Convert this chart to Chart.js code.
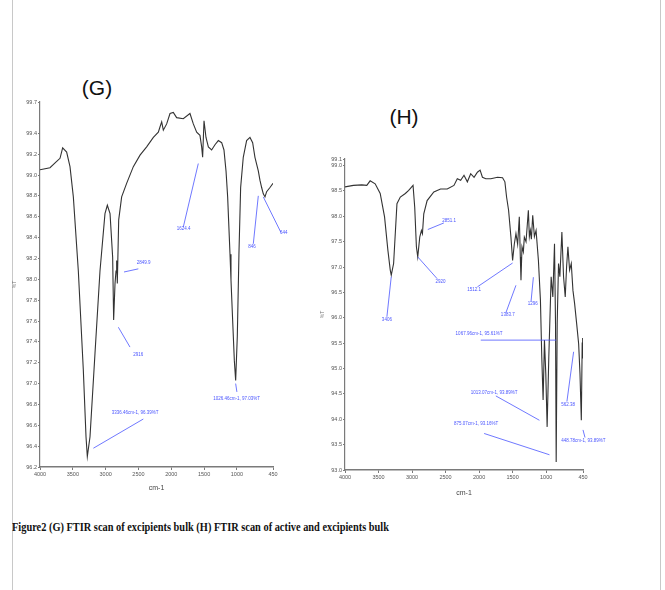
<!DOCTYPE html>
<html>
<head>
<meta charset="utf-8">
<script src="https://cdn.jsdelivr.net/npm/chart.js@4/dist/chart.umd.min.js"></script>
<style>
  html, body { margin:0; padding:0; background:#fff; }
  body { width:665px; height:590px; position:relative; overflow:hidden; }
  .frame { position:absolute; top:0; width:0; height:590px; border-left:1px solid #c8c8c8; }
  .ttl { position:absolute; font-family:"Liberation Sans", Arial, sans-serif; font-size:21px; color:#111; transform:translate(-50%,-50%); white-space:nowrap; }
  #cap { position:absolute; left:12px; top:519px; font-family:"Liberation Serif", "Times New Roman", serif; font-weight:bold; font-size:13px; color:#111; white-space:nowrap; transform-origin:0 0; }
  canvas { position:absolute; }
</style>
</head>
<body>
<div class="frame" style="left:12px"></div>
<div class="frame" style="left:660px"></div>
<div class="ttl" style="left:97px; top:88px">(G)</div>
<div class="ttl" style="left:404px; top:117px">(H)</div>
<canvas id="g" width="300" height="430" style="left:0px; top:70px"></canvas>
<canvas id="h" width="320" height="420" style="left:300px; top:90px"></canvas>
<div id="cap">Figure2 (G) FTIR scan of excipients bulk (H) FTIR scan of active and excipients bulk</div>
<script>
// ---------- DATA ----------
const xTicks = [4000, 3500, 3000, 2500, 2000, 1500, 1000, 450];

// (G) excipients bulk
const wnG = [4000,3848,3746,3695,3655,3594,3543,3492,3416,3340,3299,3279,3238,3162,3086,3010,2974,2933,2893,2878,2857,2842,2832,2822,2801,2756,2680,2578,2476,2375,2273,2197,2172,2146,2121,2070,2019,1969,1918,1817,1715,1664,1613,1563,1537,1522,1501,1471,1435,1385,1334,1283,1232,1197,1166,1141,1126,1105,1090,1065,1039,1019,994,969,943,903,852,801,760,725,674,649,623,598,572,547,496,450];
const tG  = [99.05,99.07,99.13,99.16,99.26,99.22,99.08,98.79,98.08,97.13,96.49,96.30,96.49,97.29,98.08,98.63,98.71,98.63,98.21,97.61,97.96,98.08,98.18,97.96,98.57,98.79,98.92,99.08,99.19,99.27,99.36,99.41,99.46,99.51,99.43,99.49,99.59,99.60,99.55,99.54,99.59,99.49,99.41,99.38,99.27,99.17,99.52,99.36,99.27,99.24,99.29,99.33,99.31,99.24,99.04,98.79,98.56,98.24,97.99,97.61,97.22,97.03,97.45,98.24,98.88,99.17,99.33,99.36,99.31,99.17,99.04,98.95,98.88,98.82,98.79,98.84,98.88,98.92];
const yTicksG = [96.2,96.4,96.6,96.8,97.0,97.2,97.4,97.6,97.8,98.0,98.2,98.4,98.6,98.8,99.0,99.2,99.4,99.7];
// annotations G: line start, line end, text anchor, text
const annLineG = [[3187,96.38,2426,96.66],[2806,97.54,2629,97.35],[2720,98.07,2502,98.10],[1588,99.11,1817,98.50],[1019,97.00,1000,96.92],[674,98.80,750,98.34],[598,98.79,330,98.45]];
const annTextPosG = [[2908,96.72],[2578,97.28],[2527,98.16],[1918,98.48],[1359,96.85],[826,98.31],[343,98.45]];
const annTextG = ["3336.46cm-1, 96.39%T","2916","2849.9","1624.4","1026.46cm-1, 97.03%T","846","644"];

// (H) active and excipients bulk
const wnH = [4000,3875,3750,3675,3625,3550,3475,3410,3360,3325,3310,3275,3225,3175,3100,3050,2985,2960,2935,2915,2885,2860,2845,2825,2775,2675,2575,2475,2375,2325,2275,2225,2175,2125,2075,2025,1985,1950,1900,1825,1725,1650,1615,1590,1560,1525,1500,1475,1450,1425,1400,1385,1375,1360,1340,1325,1300,1280,1265,1250,1235,1220,1200,1175,1150,1115,1085,1065,1045,1025,1005,985,960,925,900,875,860,850,835,815,795,765,740,715,695,675,650,625,600,575,545,515,495,475,462,455,450];
const tH  = [98.58,98.61,98.62,98.61,98.70,98.64,98.45,97.99,97.33,96.94,96.84,97.07,98.25,98.38,98.45,98.51,98.61,98.18,97.40,97.20,97.59,97.72,97.66,98.05,98.31,98.48,98.54,98.54,98.61,98.74,98.71,98.81,98.68,98.84,98.77,98.87,98.91,98.77,98.74,98.74,98.77,98.76,98.68,98.38,98.12,97.59,97.13,97.45,97.66,97.45,97.99,97.20,96.74,97.40,97.30,97.59,97.50,97.85,98.12,97.60,97.72,97.55,98.02,97.60,97.72,97.13,96.35,95.23,94.38,95.56,94.90,93.85,95.23,96.81,96.41,97.46,95.89,93.16,95.89,97.07,96.81,97.69,96.81,96.41,97.00,97.40,96.94,97.07,96.54,96.28,95.89,95.49,94.90,93.98,95.50,95.60,95.20];
const yTicksH = [93.0,93.5,94.0,94.5,95.0,95.5,96.0,96.5,97.0,97.5,98.0,98.5,99.0,99.13];
const annLineH = [[3310,96.81,3375,96.02],[2915,97.20,2625,96.77],[2765,97.74,2525,97.87],[1500,97.08,2025,96.61],[1450,96.64,1600,96.10],[1190,96.80,1225,96.32],[1975,95.56,850,95.56],[1750,94.46,1100,93.98],[1925,93.72,950,93.30],[590,95.33,690,94.35],[450,93.79,420,93.64]];
const annTextPosH = [[3450,95.97],[2650,96.72],[2550,97.91],[2175,96.56],[1675,96.05],[1275,96.28],[2350,95.68],[2125,94.53],[2375,93.92],[775,94.28],[775,93.58]];
const annTextH = ["3406","2920","2851.1","1512.1","1383.7","1296","1067.96cm-1, 95.61%T","1013.07cm-1, 93.89%T","875.07cm-1, 93.16%T","562.38","448.78cm-1, 93.89%T"];

// ---------- BUILD ----------
const SPEC = '#333333', BLUE = '#4a55ff', AX = '#7a7a7a', TXT = '#555';

function annPlugin(pos, texts) {
  return {
    id: 'annText',
    afterDatasetsDraw(chart) {
      const ctx = chart.ctx, xs = chart.scales.x, ys = chart.scales.y;
      ctx.save();
      ctx.fillStyle = BLUE;
      ctx.font = '4.5px "Liberation Sans", Arial, sans-serif';
      ctx.textAlign = 'left';
      ctx.textBaseline = 'middle';
      pos.forEach((p, i) => ctx.fillText(texts[i], xs.getPixelForValue(p[0]), ys.getPixelForValue(p[1])));
      ctx.restore();
    }
  };
}

function makeChart(id, wn, t, yTicks, yMin, yMax, lines, tpos, texts, cfg) {
  const datasets = [{
    data: wn.map((x, i) => ({x: x, y: t[i]})),
    borderColor: SPEC, borderWidth: 1.1, pointRadius: 0, tension: 0, order: 1
  }];
  lines.forEach(l => datasets.push({
    data: [{x: l[0], y: l[1]}, {x: l[2], y: l[3]}],
    borderColor: BLUE, borderWidth: 0.8, pointRadius: 0, clip: false, order: 0
  }));
  return new Chart(document.getElementById(id), {
    type: 'line',
    data: { datasets },
    plugins: [annPlugin(tpos, texts)],
    options: {
      responsive: false, animation: false, devicePixelRatio: 1,
      layout: { padding: cfg.padding },
      plugins: { legend: { display: false }, tooltip: { enabled: false }, title: { display: false } },
      scales: {
        x: {
          type: 'linear', reverse: true, min: 450, max: 4000,
          afterBuildTicks: s => { s.ticks = xTicks.map(v => ({value: v})); },
          afterFit: s => { s.height = cfg.xH; },
          grid: { drawOnChartArea: false, color: AX, tickLength: 3 },
          border: { color: AX, width: 1.5 },
          ticks: { color: TXT, font: { size: 5.5, family: 'Liberation Sans' }, padding: 1, maxRotation: 0, autoSkip: false, callback: v => String(v) },
          title: { display: true, text: 'cm-1', color: '#444', font: { size: 7, family: 'Liberation Sans' }, padding: { top: 0, bottom: cfg.xTitlePad } }
        },
        y: {
          type: 'linear', min: yMin, max: yMax,
          afterBuildTicks: s => { s.ticks = yTicks.map(v => ({value: v})); },
          afterFit: s => { s.width = cfg.yW; },
          grid: { drawOnChartArea: false, color: AX, tickLength: 2 },
          border: { color: AX, width: 1.2 },
          ticks: { color: TXT, font: { size: 5.5, family: 'Liberation Sans' }, padding: 1, autoSkip: false, callback: v => Number(v).toFixed(1) },
          title: { display: true, text: '%T', color: '#777', font: { size: 5, family: 'Liberation Sans' }, padding: 0 }
        }
      }
    }
  });
}

makeChart('g', wnG, tG, yTicksG, 96.2, 99.7, annLineG, annTextPosG, annTextG,
  { padding: { left: 12, top: 32, right: 27, bottom: 0 }, xH: 33, yW: 28, xTitlePad: 8 });
makeChart('h', wnH, tH, yTicksH, 93.0, 99.13, annLineH, annTextPosH, annTextH,
  { padding: { left: 20, top: 69, right: 37, bottom: 0 }, xH: 40, yW: 25, xTitlePad: 13 });

// caption width fit
const cap = document.getElementById('cap');
const w = cap.getBoundingClientRect().width;
cap.style.transform = 'scaleX(' + (377 / w) + ')';
</script>
</body>
</html>
